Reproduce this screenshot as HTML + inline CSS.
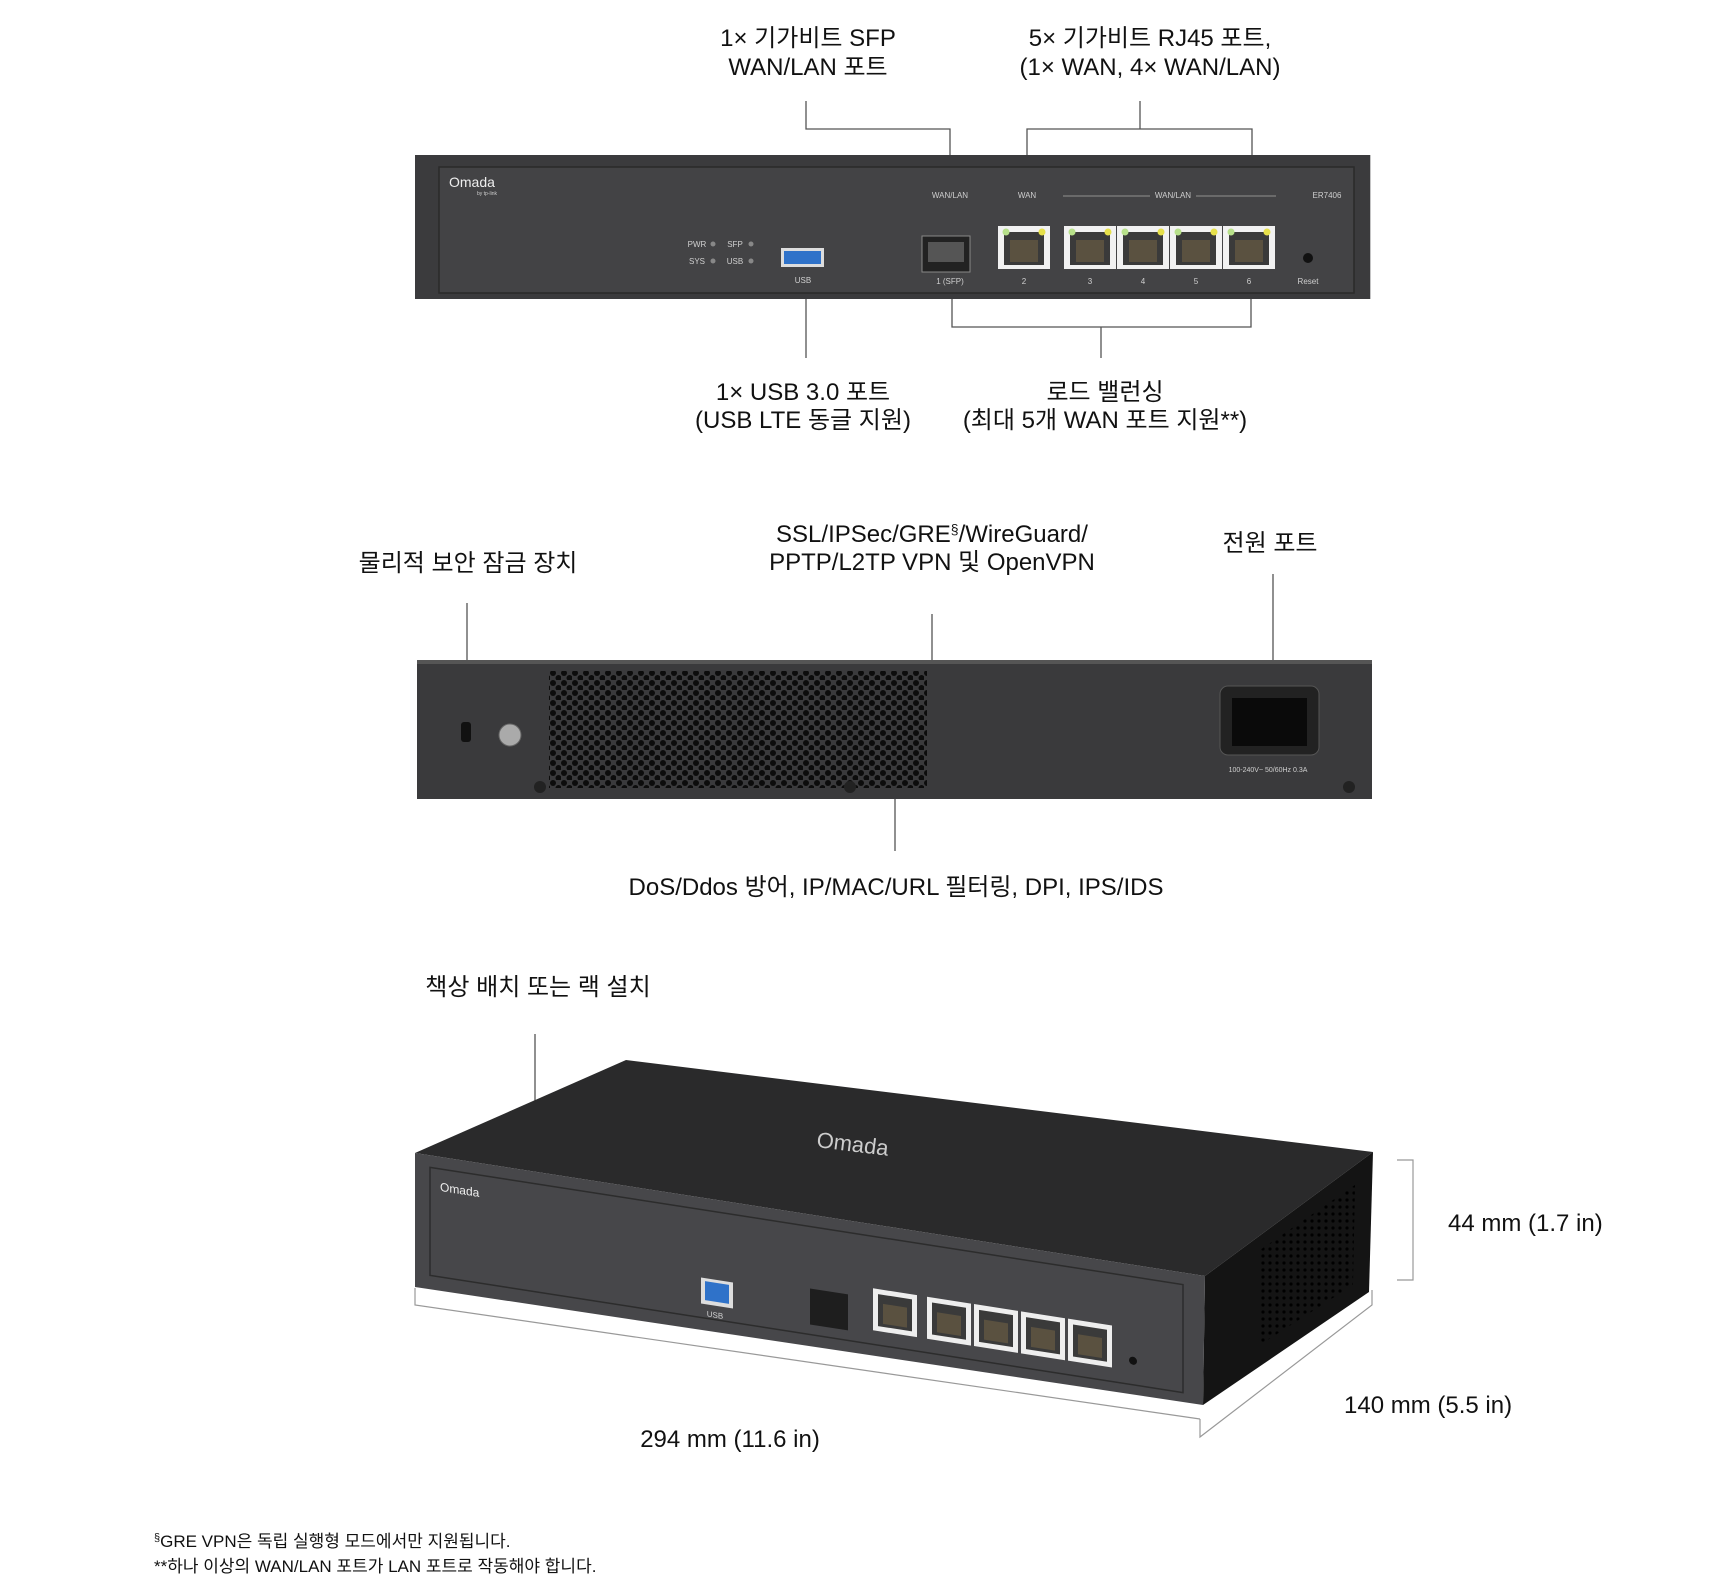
<!DOCTYPE html>
<html><head><meta charset="utf-8"><style>
html,body{margin:0;padding:0;background:#fff;}
svg{display:block;}
text{font-family:"Liberation Sans","Noto Sans CJK KR",sans-serif;fill:#111;}
.l{font-size:24px;text-anchor:middle;}
.s{font-family:"Liberation Sans",sans-serif;fill:#cfcfcf;font-size:8px;text-anchor:middle;}
</style></head><body>
<svg width="1711" height="1590" viewBox="0 0 1711 1590" xmlns="http://www.w3.org/2000/svg">
<defs>
<pattern id="hex" width="11" height="10" patternUnits="userSpaceOnUse">
<circle cx="3" cy="3" r="3" fill="#0c0c0c"/><circle cx="8.5" cy="8" r="3" fill="#0c0c0c"/>
</pattern>
<pattern id="sd" width="7" height="7" patternUnits="userSpaceOnUse"><circle cx="3" cy="3" r="1.6" fill="#000"/></pattern>
<g id="rj"><rect x="0" y="0" width="52" height="43" fill="#f1f1f1"/><rect x="6" y="6" width="40" height="33" fill="#3a3a3a"/><rect x="12" y="14" width="28" height="22" fill="#5a5140"/><circle cx="8" cy="6" r="3.5" fill="#b7e08a"/><circle cx="44" cy="6" r="3.5" fill="#e6e04a"/></g>
<g id="rj3"><rect x="0" y="0" width="44" height="42" fill="#eee"/><rect x="5" y="5" width="34" height="32" fill="#3a3a3a"/><rect x="10" y="14" width="24" height="20" fill="#5a5140"/></g>
</defs>

<text class="l" x="808" y="46">1× 기가비트 SFP</text>
<text class="l" x="808" y="75">WAN/LAN 포트</text>
<text class="l" x="1150" y="46">5× 기가비트 RJ45 포트,</text>
<text class="l" x="1150" y="75">(1× WAN, 4× WAN/LAN)</text>
<g stroke="#555" stroke-width="1.3" fill="none">
<polyline points="806,101 806,129 950,129 950,243"/>
<polyline points="1027,173 1027,129 1252,129 1252,173"/>
<line x1="1140" y1="101" x2="1140" y2="129"/>
<line x1="806" y1="290" x2="806" y2="358"/>
<polyline points="952,287 952,327 1251,327 1251,287"/>
<line x1="1101" y1="327" x2="1101" y2="358"/>
</g>

<rect x="415" y="155" width="963" height="144" fill="#3b3b3d" transform="translate(415 0) scale(0.992 1) translate(-415 0)"/>
<rect x="439" y="167" width="915" height="126" fill="#434345" stroke="#2a2a2a" stroke-width="1.5"/>
<text x="449" y="187" style="font-size:14px;fill:#eee">Omada</text>
<text x="477" y="195" style="font-size:5px;fill:#ccc">by tp-link</text>
<text class="s" x="950" y="198">WAN/LAN</text><text class="s" x="1027" y="198">WAN</text>
<text class="s" x="1173" y="198">WAN/LAN</text><text class="s" x="1327" y="198">ER7406</text>
<line x1="1063" y1="196" x2="1150" y2="196" stroke="#aaa" stroke-width="0.7"/><line x1="1196" y1="196" x2="1276" y2="196" stroke="#aaa" stroke-width="0.7"/>
<text class="s" x="697" y="247">PWR</text><text class="s" x="735" y="247">SFP</text>
<text class="s" x="697" y="264">SYS</text><text class="s" x="735" y="264">USB</text>
<circle cx="713" cy="244" r="2.5" fill="#888"/><circle cx="751" cy="244" r="2.5" fill="#888"/><circle cx="713" cy="261" r="2.5" fill="#888"/><circle cx="751" cy="261" r="2.5" fill="#888"/>
<rect x="781" y="248" width="43" height="19" fill="#ddd"/><rect x="784" y="251" width="37" height="13" fill="#2f72c9"/>
<text class="s" x="803" y="283">USB</text>
<rect x="922" y="236" width="48" height="36" fill="#222" stroke="#888"/><rect x="928" y="242" width="36" height="20" fill="#555"/>
<text class="s" x="950" y="284">1 (SFP)</text>
<use href="#rj" x="998" y="226"/>
<use href="#rj" x="1064" y="226"/><use href="#rj" x="1117" y="226"/><use href="#rj" x="1170" y="226"/><use href="#rj" x="1223" y="226"/>
<text class="s" x="1024" y="284">2</text><text class="s" x="1090" y="284">3</text><text class="s" x="1143" y="284">4</text><text class="s" x="1196" y="284">5</text><text class="s" x="1249" y="284">6</text>
<circle cx="1308" cy="258" r="5" fill="#111"/><text class="s" x="1308" y="284">Reset</text>

<text class="l" x="803" y="400">1× USB 3.0 포트</text>
<text class="l" x="803" y="428">(USB LTE 동글 지원)</text>
<text class="l" x="1105" y="400">로드 밸런싱</text>
<text class="l" x="1105" y="428">(최대 5개 WAN 포트 지원**)</text>

<text class="l" x="468" y="571">물리적 보안 잠금 장치</text>
<text class="l" x="932" y="542">SSL/IPSec/GRE<tspan font-size="14" dy="-8">§</tspan><tspan dy="8">/WireGuard/</tspan></text>
<text class="l" x="932" y="570">PPTP/L2TP VPN 및 OpenVPN</text>
<text class="l" x="1270" y="551">전원 포트</text>
<g stroke="#555" stroke-width="1.3">
<line x1="467" y1="603" x2="467" y2="708"/><line x1="932" y1="614" x2="932" y2="660"/><line x1="1273" y1="574" x2="1273" y2="680"/><line x1="895" y1="799" x2="895" y2="851"/>
</g>
<rect x="417" y="660" width="955" height="139" fill="#3a3a3c"/>
<rect x="417" y="660" width="955" height="4" fill="#555"/>
<rect x="549" y="671" width="378" height="117" fill="url(#hex)"/>
<rect x="461" y="722" width="10" height="20" rx="3" fill="#111"/>
<circle cx="510" cy="735" r="11" fill="#aaa" stroke="#666"/>
<rect x="1220" y="686" width="99" height="69" rx="8" fill="#222" stroke="#555"/>
<rect x="1232" y="698" width="75" height="48" fill="#0a0a0a"/>
<text class="s" x="1268" y="772" style="font-size:7px">100-240V~ 50/60Hz 0.3A</text>
<circle cx="540" cy="787" r="6" fill="#222"/><circle cx="850" cy="787" r="6" fill="#222"/><circle cx="1349" cy="787" r="6" fill="#222"/>
<text class="l" x="896" y="895">DoS/Ddos 방어, IP/MAC/URL 필터링, DPI, IPS/IDS</text>

<text class="l" x="538" y="995">책상 배치 또는 랙 설치</text>
<line x1="535" y1="1034" x2="535" y2="1108" stroke="#555" stroke-width="1.3"/>
<polygon points="415,1153 626,1060 1373,1152 1205,1276" fill="#2a2a2b"/>
<polygon points="1205,1276 1373,1152 1369,1292 1203,1405" fill="#141414"/>
<polygon points="1260,1250 1355,1185 1353,1285 1260,1345" fill="url(#sd)"/>
<polygon points="415,1153 1205,1276 1203,1405 415,1287" fill="#47474a"/>
<text x="816" y="1147" transform="rotate(7 816 1147)" style="font-size:22px;fill:#ccc">Omada</text>
<g transform="matrix(1,0.1557,0,1,415,1153)">
<polygon points="15,12 768,12 768,120 15,120" fill="none" stroke="#2c2c2c" stroke-width="1.5"/>
<text x="25" y="34" style="font-size:12px;fill:#eee">Omada</text>
<rect x="286" y="80" width="32" height="26" fill="#ddd"/><rect x="290" y="83" width="24" height="19" fill="#2f72c9"/>
<text class="s" x="300" y="118">USB</text>
<rect x="395" y="74" width="38" height="36" fill="#1e1e1e"/>
<use href="#rj3" x="458" y="64"/>
<use href="#rj3" x="512" y="64"/><use href="#rj3" x="559" y="64"/><use href="#rj3" x="606" y="64"/><use href="#rj3" x="653" y="64"/>
<circle cx="718" cy="96" r="4" fill="#111"/>
</g>
<g stroke="#999" stroke-width="1.2" fill="none">
<polyline points="415,1288 415,1305 1200,1419"/>
<polyline points="1200,1419 1200,1437 1372,1305 1372,1290"/>
<polyline points="1397,1160 1413,1160 1413,1280 1397,1280"/>
</g>
<text x="1448" y="1231" style="font-size:24px">44 mm (1.7 in)</text>
<text x="1344" y="1413" style="font-size:24px">140 mm (5.5 in)</text>
<text class="l" x="730" y="1447">294 mm (11.6 in)</text>

<text x="154" y="1547" style="font-size:17px"><tspan font-size="11" dy="-6">§</tspan><tspan dy="6">GRE VPN은 독립 실행형 모드에서만 지원됩니다.</tspan></text>
<text x="154" y="1572" style="font-size:17px">**하나 이상의 WAN/LAN 포트가 LAN 포트로 작동해야 합니다.</text>
</svg>
</body></html>
